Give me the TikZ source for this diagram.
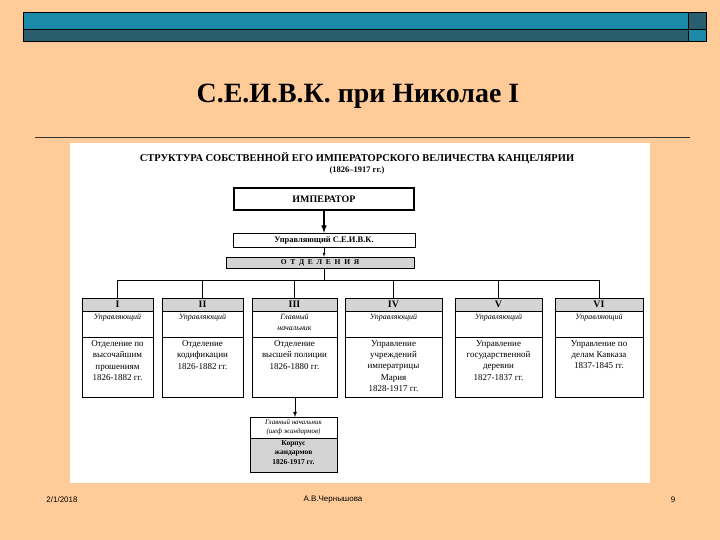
\documentclass[tikz,border=0pt]{standalone}
\usepackage{fontspec}
\setmainfont{Liberation Serif}
\newfontfamily\footfont{Liberation Sans}
\definecolor{bg}{HTML}{FFCC99}
\definecolor{tealA}{HTML}{1A8AA8}
\definecolor{tealB}{HTML}{2A5E6E}
\definecolor{hdr}{HTML}{D4D4D4}
\begin{document}
\begin{tikzpicture}[x=1bp,y=-1bp,
  dept/.style={draw,line width=0.5pt},
  hd/.style={font=\bfseries\fontsize{10}{11}\selectfont},
  it/.style={font=\itshape\fontsize{8}{10.5}\selectfont,align=center},
  bd/.style={font=\fontsize{9}{11.5}\selectfont,align=center},
  foot/.style={font=\footfont\fontsize{8}{9}\selectfont}]
\fill[bg] (0,0) rectangle (720,540);
\useasboundingbox (0,0) rectangle (720,540);
% top bar
\fill[tealA] (23,12) rectangle (688,29);
\fill[tealB] (23,29) rectangle (688,41);
\fill[tealB] (688,12) rectangle (706,29);
\fill[tealA] (688,29) rectangle (706,41);
\draw[line width=0.6pt] (23,12) rectangle (706,41) (23,29) -- (706,29) (688,12) -- (688,41);
\node[font=\bfseries\fontsize{28}{32}\selectfont] (title) at (358,96) {С.Е.И.В.К.\ при Николае I};
\draw[gray!40!black,line width=0.6pt] (35,137) -- (690,137);
\fill[white] (70,143) rectangle (650,483);
\node[font=\bfseries\fontsize{10.5}{12}\selectfont] (h1) at (357,158) {СТРУКТУРА СОБСТВЕННОЙ ЕГО ИМПЕРАТОРСКОГО ВЕЛИЧЕСТВА КАНЦЕЛЯРИИ};
\node[font=\bfseries\fontsize{8.5}{10}\selectfont] (h2) at (357,170.5) {(1826–1917 гг.)};
\node[draw,line width=1.8pt,minimum width=180bp,minimum height=22bp,font=\bfseries\fontsize{10}{11}\selectfont] (imp) at (324,199) {ИМПЕРАТОР};
\node[draw,line width=0.5pt,minimum width=182bp,minimum height=14bp,font=\bfseries\fontsize{8.5}{9}\selectfont,inner sep=0pt] (upr) at (324,240) {Управляющий С.Е.И.В.К.};
\node[draw,fill=hdr,line width=0.5pt,minimum width=188bp,minimum height=11bp,inner sep=0pt,font=\bfseries\fontsize{7.5}{8}\selectfont] (otd) at (320,262.5) {О\,\,\,Т\,\,\,Д\,\,\,Е\,\,\,Л\,\,\,Е\,\,\,Н\,\,\,И\,\,\,Я};
\draw[-latex,line width=1.5pt] (imp.south) -- (upr.north);
\draw[-latex,line width=0.4pt] (upr.south) -- (upr.south |- otd.north);
\coordinate (hc) at (324,280);
\draw[line width=0.5pt] (hc |- otd.south) -- (hc);
\coordinate (hl) at (117,280); \coordinate (hr) at (599,280);
\draw[line width=0.5pt] (hl) -- (hr);
% departments
\foreach \n/\xa/\xb/\num/\who/\txt in {
 d1/82/153/I/Управляющий/{Отделение по\\высочайшим\\прошениям\\1826-1882 гг.},
 d2/162/243/II/Управляющий/{Отделение\\кодификации\\1826-1882 гг.},
 d3/252/337/III/{Главный\\начальник}/{Отделение\\высшей полиции\\1826-1880 гг.},
 d4/345/442/IV/Управляющий/{Управление\\учреждений\\императрицы\\Мария\\1828-1917 гг.},
 d5/455/542/V/Управляющий/{Управление\\государственной\\деревни\\1827-1837 гг.},
 d6/555/643/VI/Управляющий/{Управление по\\делам Кавказа\\1837-1845 гг.}}{
  \fill[hdr] (\xa,298) rectangle (\xb,311);
  \draw[dept] (\xa,298) rectangle (\xb,397);
  \draw[dept] (\xa,311) -- (\xb,311) (\xa,337) -- (\xb,337);
  \node[hd] (\n) at ({(\xa+\xb)/2},304.5) {\num};
  \node[it,anchor=north,inner sep=1pt] (\n w) at ({(\xa+\xb)/2},313) {\who};
  \node[bd,anchor=north,inner sep=1pt] (\n t) at ({(\xa+\xb)/2},339) {\txt};
  \draw[line width=0.5pt] ({(\xa+\xb)/2},280) -- ({(\xa+\xb)/2},298);
}
% gendarmes
\coordinate (d3b) at (295,397);
\fill[hdr] (250,438) rectangle (337,472);
\draw[dept] (250,417) rectangle (337,472) (250,438) -- (337,438);
\node[it,font=\itshape\fontsize{7}{9}\selectfont,anchor=north,inner sep=1pt] (gn) at (293.5,418) {Главный начальник\\(шеф жандармов)};
\node[bd,font=\bfseries\fontsize{7.5}{9.5}\selectfont,anchor=north,inner sep=1pt] (gk) at (293.5,439) {Корпус\\жандармов\\1826-1917 гг.};
\draw[-latex,line width=0.8pt] (d3b) -- (295,417);
% footer
\node[foot] (f1) at (62,500) {2/1/2018};
\node[foot] (f2) at (333,500) {А.В.Чернышова};
\node[foot] (f3) at (673,500) {9};
\end{tikzpicture}
\end{document}
